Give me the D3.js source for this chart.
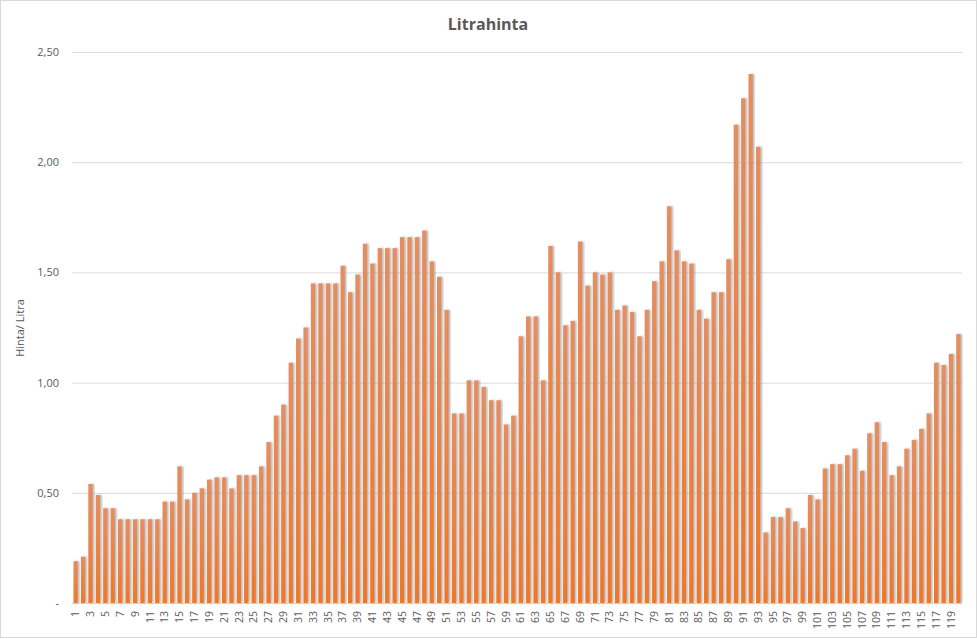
<!DOCTYPE html>
<html>
<head>
<meta charset="utf-8">
<script src="https://cdn.jsdelivr.net/npm/d3@7"></script>
<style>
  html, body { margin: 0; padding: 0; background: #fff; }
  text { font-family: "Open Sans", "Liberation Sans", sans-serif; fill: #595959; }
</style>
</head>
<body>
<div class="chart"></div>
<script>
// data
const categories = [
  1,2,3,4,5,6,7,8,9,10,11,12,13,14,15,16,17,18,19,20,
  21,22,23,24,25,26,27,28,29,30,31,32,33,34,35,36,37,38,39,40,
  41,42,43,44,45,46,47,48,49,50,51,52,53,54,55,56,57,58,59,60,
  61,62,63,64,65,66,67,68,69,70,71,72,73,74,75,76,77,78,79,80,
  81,82,83,84,85,86,87,88,89,90,91,92,93,94,95,96,97,98,99,100,
  101,102,103,104,105,106,107,108,109,110,111,112,113,114,115,116,117,118,119,120
];
const prices = [
  0.19,0.21,0.54,0.49,0.43,0.43,0.38,0.38,0.38,0.38,
  0.38,0.38,0.46,0.46,0.62,0.47,0.50,0.52,0.56,0.57,
  0.57,0.52,0.58,0.58,0.58,0.62,0.73,0.85,0.90,1.09,
  1.20,1.25,1.45,1.45,1.45,1.45,1.53,1.41,1.49,1.63,
  1.54,1.61,1.61,1.61,1.66,1.66,1.66,1.69,1.55,1.48,
  1.33,0.86,0.86,1.01,1.01,0.98,0.92,0.92,0.81,0.85,
  1.21,1.30,1.30,1.01,1.62,1.50,1.26,1.28,1.64,1.44,
  1.50,1.49,1.50,1.33,1.35,1.32,1.21,1.33,1.46,1.55,
  1.80,1.60,1.55,1.54,1.33,1.29,1.41,1.41,1.56,2.17,
  2.29,2.40,2.07,0.32,0.39,0.39,0.43,0.37,0.34,0.49,
  0.47,0.61,0.63,0.63,0.67,0.70,0.60,0.77,0.82,0.73,
  0.58,0.62,0.70,0.74,0.79,0.86,1.09,1.08,1.13,1.22
];
const yTicks = [0, 0.5, 1, 1.5, 2, 2.5];
const yTickLabels = ['-', '0,50', '1,00', '1,50', '2,00', '2,50'];
const title = 'Litrahinta';
const yTitle = 'Hinta/ Litra';

// chart
const width = 977;
const height = 639;
const margin = { top: 52, right: 15, bottom: 36, left: 72 };
const chartW = width - margin.left - margin.right;
const chartH = height - margin.top - margin.bottom;

const svg = d3.select('.chart')
  .append('svg')
  .attr('width', width)
  .attr('height', height);

// outer frame
svg.append('rect')
  .attr('x', 0.5).attr('y', 0.5)
  .attr('width', width - 1).attr('height', height - 2)
  .attr('fill', '#fff')
  .attr('stroke', '#d9d9d9');

const defs = svg.append('defs');
const grad = defs.append('linearGradient')
  .attr('id', 'barGrad')
  .attr('x1', 0).attr('y1', 0).attr('x2', 0).attr('y2', 1);
grad.append('stop').attr('offset', '0%').attr('stop-color', '#e58e60');
grad.append('stop').attr('offset', '100%').attr('stop-color', '#ee782a');

const shadow = defs.append('filter')
  .attr('id', 'barShadow')
  .attr('x', '-50%').attr('y', '-5%').attr('width', '200%').attr('height', '110%');
shadow.append('feDropShadow')
  .attr('dx', 1.8).attr('dy', 0)
  .attr('stdDeviation', 0.9)
  .attr('flood-color', '#9a9a9a')
  .attr('flood-opacity', 0.7);

const g = svg.append('g')
  .attr('transform', `translate(${margin.left},${margin.top})`);

// scales
const xScale = d3.scaleBand()
  .domain(categories)
  .range([0, chartW])
  .paddingInner(0.42)
  .paddingOuter(0.2);

const yScale = d3.scaleLinear()
  .domain([0, 2.5])
  .range([chartH, 0]);

// grid
const yAxis = d3.axisLeft(yScale)
  .tickValues(yTicks)
  .tickFormat((d, i) => yTickLabels[i])
  .tickSize(-chartW)
  .tickPadding(13);

const yAxisDraw = g.append('g')
  .attr('class', 'y-axis')
  .call(yAxis);
yAxisDraw.select('.domain').remove();
yAxisDraw.selectAll('.tick line').attr('stroke', '#d9d9d9');
yAxisDraw.selectAll('.tick text')
  .style('font-size', '11px');

// bars
g.append('g')
  .attr('class', 'bars')
  .selectAll('rect')
  .data(prices)
  .enter()
  .append('rect')
  .attr('x', (d, i) => xScale(categories[i]))
  .attr('y', d => yScale(d))
  .attr('width', xScale.bandwidth())
  .attr('height', d => chartH - yScale(d))
  .attr('fill', 'url(#barGrad)')
  .attr('filter', 'url(#barShadow)');

// x axis, every other label
const xAxis = d3.axisBottom(xScale)
  .tickValues(categories.filter(c => c % 2 === 1))
  .tickSize(0)
  .tickPadding(0);

const xAxisDraw = g.append('g')
  .attr('class', 'x-axis')
  .attr('transform', `translate(0,${chartH})`)
  .call(xAxis);
xAxisDraw.select('.domain').remove();
xAxisDraw.selectAll('.tick text')
  .attr('transform', 'rotate(-90)')
  .attr('x', -8)
  .attr('y', 0)
  .attr('dy', '0.35em')
  .style('text-anchor', 'end')
  .style('font-size', '10.5px');

// title
svg.append('text')
  .attr('x', 488)
  .attr('y', 30)
  .attr('text-anchor', 'middle')
  .style('font-size', '16px')
  .style('font-weight', 'bold')
  .text(title);

// y title
svg.append('text')
  .attr('transform', 'translate(24,328) rotate(-90)')
  .attr('text-anchor', 'middle')
  .style('font-size', '11px')
  .text(yTitle);
</script>
</body>
</html>
